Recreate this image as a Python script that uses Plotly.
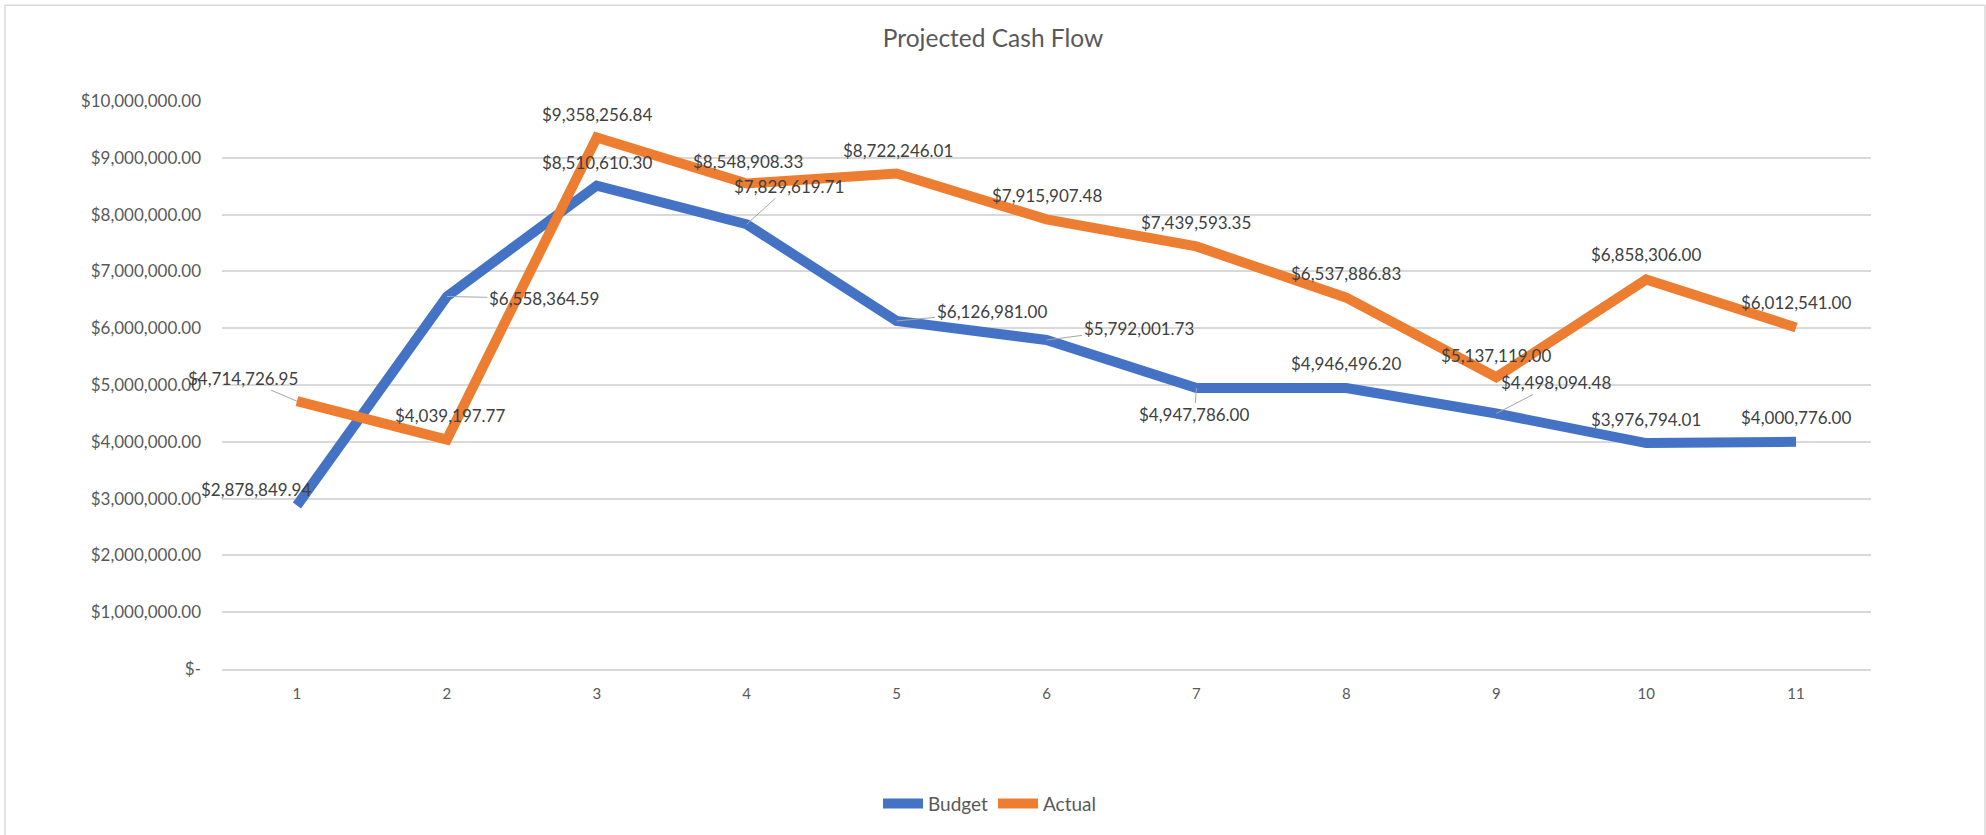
import plotly.graph_objects as go

categories = [1, 2, 3, 4, 5, 6, 7, 8, 9, 10, 11]
budget = [2878849.94, 6558364.59, 8510610.30, 7829619.71, 6126981.00, 5792001.73,
          4947786.00, 4946496.20, 4498094.48, 3976794.01, 4000776.00]
actual = [4714726.95, 4039197.77, 9358256.84, 8548908.33, 8722246.01, 7915907.48,
          7439593.35, 6537886.83, 5137119.00, 6858306.00, 6012541.00]
ytick_vals = [0, 1e6, 2e6, 3e6, 4e6, 5e6, 6e6, 7e6, 8e6, 9e6, 10e6]
ytick_text = ["$-", "$1,000,000.00", "$2,000,000.00", "$3,000,000.00", "$4,000,000.00",
              "$5,000,000.00", "$6,000,000.00", "$7,000,000.00", "$8,000,000.00",
              "$9,000,000.00", "$10,000,000.00"]

# label placement (pixel offsets of label centre from point, leader line flag)
budget_off = [(-41, -16, False), (97, 2, True), (0, -23, False), (42, -38, True),
              (95, -9, True), (92, -12, True), (-2, 27, True), (0, -25, False),
              (60, -31, True), (0, -24, False), (0, -24, False)]
actual_off = [(-54, -23, True), (3, -24, False), (0, -23, False), (1, -22, False),
              (1, -23, False), (0, -24, False), (0, -24, False), (0, -24, False),
              (0, -22, False), (0, -25, False), (0, -25, False)]

BLUE = "#4472C4"
ORANGE = "#ED7D31"
FONT = "Lato, 'Open Sans', sans-serif"

W, H = 1986, 835
L, R, T, B = 222, 115, 101, 164
pw, ph = W - L - R, H - T - B

fig = go.Figure()
fig.add_trace(go.Scatter(x=categories, y=budget, mode="lines", name="Budget",
                         line=dict(color=BLUE, width=10), hoverinfo="skip"))
fig.add_trace(go.Scatter(x=categories, y=actual, mode="lines", name="Actual",
                         line=dict(color=ORANGE, width=10), hoverinfo="skip"))


def fmt(v):
    return "${:,.2f}".format(v)


annotations = []
for series, offs in ((budget, budget_off), (actual, actual_off)):
    for xv, yv, (ax, ay, lead) in zip(categories, series, offs):
        annotations.append(dict(
            x=xv, y=yv, xref="x", yref="y", text=fmt(yv),
            showarrow=True, ax=ax, ay=ay, arrowhead=0, arrowwidth=1,
            arrowcolor="#A6A6A6" if lead else "rgba(0,0,0,0)",
            font=dict(family=FONT, size=17, color="#404040"),
        ))

fig.update_layout(
    width=W, height=H,
    margin=dict(l=L, r=R, t=T, b=B),
    paper_bgcolor="white", plot_bgcolor="white",
    title=dict(text="Projected Cash Flow", x=0.5, xref="container", xanchor="center",
               y=1 - 38 / H, yref="container", yanchor="middle",
               font=dict(family=FONT, size=24.5, color="#595959")),
    showlegend=True,
    legend=dict(orientation="h", x=(990 - L) / pw, xanchor="center",
                y=-(806 - (T + ph)) / ph, yanchor="middle",
                font=dict(family=FONT, size=19, color="#595959"),
                itemwidth=40, bgcolor="rgba(0,0,0,0)"),
    xaxis=dict(range=[0.5, 11.5], tickvals=categories, ticktext=[str(c) for c in categories],
               showgrid=False, zeroline=False, showline=True, linecolor="#D9D9D9", linewidth=1.5,
               ticks="", ticklabelstandoff=10,
               tickfont=dict(family=FONT, size=15, color="#595959"), fixedrange=True),
    yaxis=dict(range=[0, 10e6], tickvals=ytick_vals, ticktext=ytick_text,
               showgrid=True, gridcolor="#D9D9D9", gridwidth=1.5, zeroline=False,
               showline=False, ticks="", ticklabelstandoff=20,
               tickfont=dict(family=FONT, size=17, color="#595959"), fixedrange=True),
    annotations=annotations,
    shapes=[dict(type="rect", xref="paper", yref="paper",
                 x0=(5 - L) / pw, x1=(1985 - L) / pw,
                 y0=-(845 - (T + ph)) / ph, y1=(T + ph - 5) / ph,
                 line=dict(color="#D9D9D9", width=1.5), fillcolor="rgba(0,0,0,0)",
                 layer="below")],
)

fig.write_html("out.html", config={"displayModeBar": False},
               post_script="document.body.style.margin='0px';document.body.style.overflow='hidden';")
